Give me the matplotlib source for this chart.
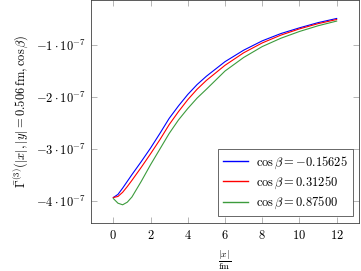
import matplotlib
matplotlib.use("Agg")
import matplotlib.pyplot as plt
from matplotlib.ticker import FuncFormatter
import numpy as np

plt.rcParams["mathtext.fontset"] = "cm"
plt.rcParams["font.family"] = "DejaVu Serif"

# ---- data (y in units of 1e-7) ----
x = [0, 0.25, 0.5, 0.75, 1.0, 1.5, 2.0, 2.5, 3.0, 3.5, 4.0, 4.5, 5.0,
     6.0, 7.0, 8.0, 9.0, 10.0, 11.0, 12.0]
g_m015625 = [-3.93, -3.87, -3.75, -3.62, -3.49, -3.24, -2.98, -2.70, -2.41, -2.17,
             -1.95, -1.76, -1.60, -1.32, -1.10, -0.92, -0.78, -0.67, -0.57, -0.49]
g_031250 = [-3.93, -3.91, -3.83, -3.72, -3.60, -3.35, -3.09, -2.82, -2.53, -2.28,
            -2.05, -1.85, -1.68, -1.39, -1.15, -0.96, -0.81, -0.69, -0.59, -0.51]
g_087500 = [-3.95, -4.04, -4.07, -4.02, -3.92, -3.62, -3.30, -3.00, -2.70, -2.44,
            -2.22, -2.02, -1.85, -1.50, -1.24, -1.03, -0.87, -0.74, -0.63, -0.54]
labels = [r"$\cos\beta = -0.15625$", r"$\cos\beta = 0.31250$", r"$\cos\beta = 0.87500$"]
colors = ["#0000ff", "#ff0000", "#3c9b3c"]
SCALE = 1e-7

fig = plt.figure(figsize=(3.61, 2.71), dpi=100)
ax = fig.add_axes([91 / 361, 48 / 271, 268 / 361, 223 / 271])

for ys, lab, c in zip([g_m015625, g_031250, g_087500], labels, colors):
    ax.plot(x, np.array(ys) * SCALE, color=c, lw=0.8, label=lab)

ax.set_xlim(-1.2, 13.2)
ax.set_ylim(-4.42e-7, -0.135e-7)
ax.set_xticks([0, 2, 4, 6, 8, 10, 12])
ax.set_yticks([-4e-7, -3e-7, -2e-7, -1e-7])
ax.xaxis.set_major_formatter(FuncFormatter(lambda v, p: r"$%d$" % round(v)))
ax.yaxis.set_major_formatter(
    FuncFormatter(lambda v, p: r"$%d\cdot10^{-7}$" % round(v / SCALE)))
ax.tick_params(direction="in", length=4, width=0.5, color="#999999",
               top=True, right=True, labelsize=9, pad=4)
for sp in ax.spines.values():
    sp.set_linewidth(0.6)
    sp.set_color("#404040")

ax.set_xlabel(r"$\frac{|x|}{\mathrm{fm}}$", fontsize=10, labelpad=5)
ax.set_ylabel(r"$\bar{\Gamma}^{(3)}(|x|, |y| = 0.506\,\mathrm{fm}, \cos\beta)$",
              fontsize=9, labelpad=3)

leg = ax.legend(loc="lower right", bbox_to_anchor=(0.978, 0.031), fontsize=9,
                frameon=True, fancybox=False, edgecolor="#222222",
                handlelength=2.0, handletextpad=0.7, borderpad=0.4,
                labelspacing=0.3, borderaxespad=0)
leg.get_frame().set_linewidth(0.6)
for h in leg.get_lines():
    h.set_linewidth(1.0)

fig.savefig("out.png", dpi=100)
